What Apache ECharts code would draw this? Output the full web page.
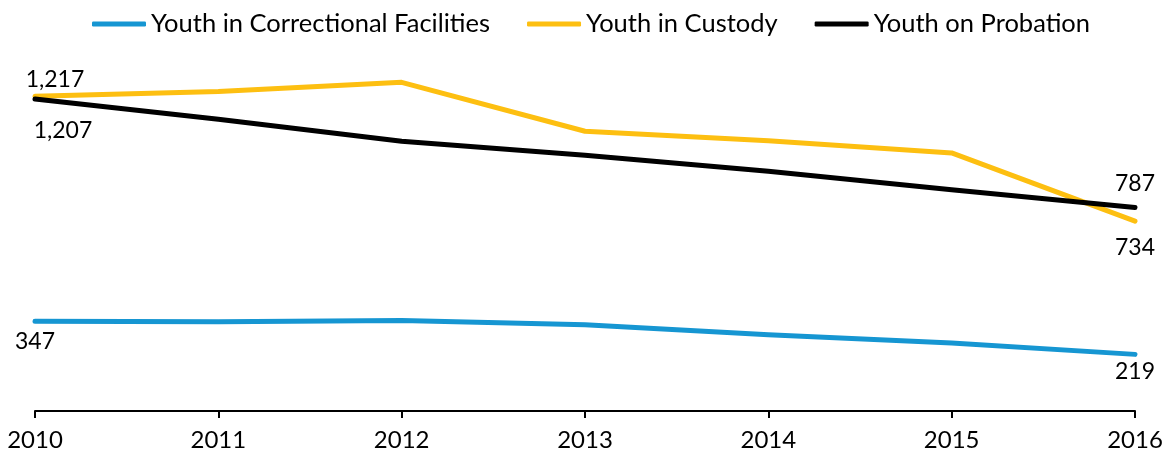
<!DOCTYPE html>
<html>
<head>
<meta charset="utf-8">
<script src="https://cdn.jsdelivr.net/npm/echarts@6/dist/echarts.min.js"></script>
<style>
  html, body { margin: 0; padding: 0; background: #fff; }
  #chart { width: 1169px; height: 454px; }
</style>
</head>
<body>
<div id="chart"></div>
<script>
// Youth populations by year
const years = ['2010', '2011', '2012', '2013', '2014', '2015', '2016'];
const correctional = [347, 345, 350, 334, 295, 263, 219];
const custody = [1217, 1236, 1271, 1082, 1045, 998, 734];
const probation = [1207, 1128, 1043, 989, 927, 856, 787];

const FONT = 'Lato, "Noto Sans", sans-serif';

// Value labels appear only on the first and last points of each line
function withEndLabels(values, firstLabel, lastLabel) {
  return values.map((v, i) => {
    if (i === 0) return { value: v, label: Object.assign({ show: true }, firstLabel) };
    if (i === values.length - 1) return { value: v, label: Object.assign({ show: true }, lastLabel) };
    return v;
  });
}

const labelText = {
  show: false,
  color: '#000',
  fontSize: 23,
  fontFamily: FONT,
  formatter: p => Number(p.value).toLocaleString('en-US')
};

function lineSeries(name, color, data, z) {
  return {
    name: name,
    type: 'line',
    data: data,
    showSymbol: true,
    symbol: 'circle',
    symbolSize: 0.01,
    z: z,
    lineStyle: { color: color, width: 5, cap: 'round', join: 'round' },
    itemStyle: { color: color },
    emphasis: { disabled: true },
    label: labelText
  };
}

const chart = echarts.init(document.getElementById('chart'));
chart.setOption({
  animation: false,
  legend: {
    top: 11,
    left: 92,
    padding: 0,
    icon: 'roundRect',
    itemWidth: 54,
    itemHeight: 5,
    itemGap: 37,
    textStyle: { color: '#000', fontSize: 25.5, fontFamily: FONT },
    data: ['Youth in Correctional Facilities', 'Youth in Custody', 'Youth on Probation']
  },
  grid: { left: 35, right: 34, top: 49, bottom: 43, containLabel: false },
  xAxis: {
    type: 'category',
    data: years,
    boundaryGap: false,
    axisLine: { lineStyle: { color: '#000', width: 2 } },
    axisTick: { show: true, length: 7, lineStyle: { color: '#000', width: 2 } },
    axisLabel: { color: '#000', fontSize: 24, fontFamily: FONT, margin: 17 },
    splitLine: { show: false }
  },
  yAxis: {
    type: 'value',
    min: 0,
    max: 1400,
    show: false,
    splitLine: { show: false }
  },
  series: [
    lineSeries('Youth in Correctional Facilities', '#1696d2',
      withEndLabels(correctional,
        { position: 'bottom', distance: 5, offset: [0, 4] },
        { position: 'bottom', distance: 5, offset: [0, 1] }), 3),
    lineSeries('Youth in Custody', '#fdbf11',
      withEndLabels(custody,
        { position: 'top', distance: 5, offset: [20, 0] },
        { position: 'bottom', distance: 5, offset: [0, 10] }), 2),
    lineSeries('Youth on Probation', '#000000',
      withEndLabels(probation,
        { position: 'bottom', distance: 5, offset: [28, 15] },
        { position: 'top', distance: 5, offset: [0, -7] }), 4)
  ]
});
</script>
</body>
</html>
